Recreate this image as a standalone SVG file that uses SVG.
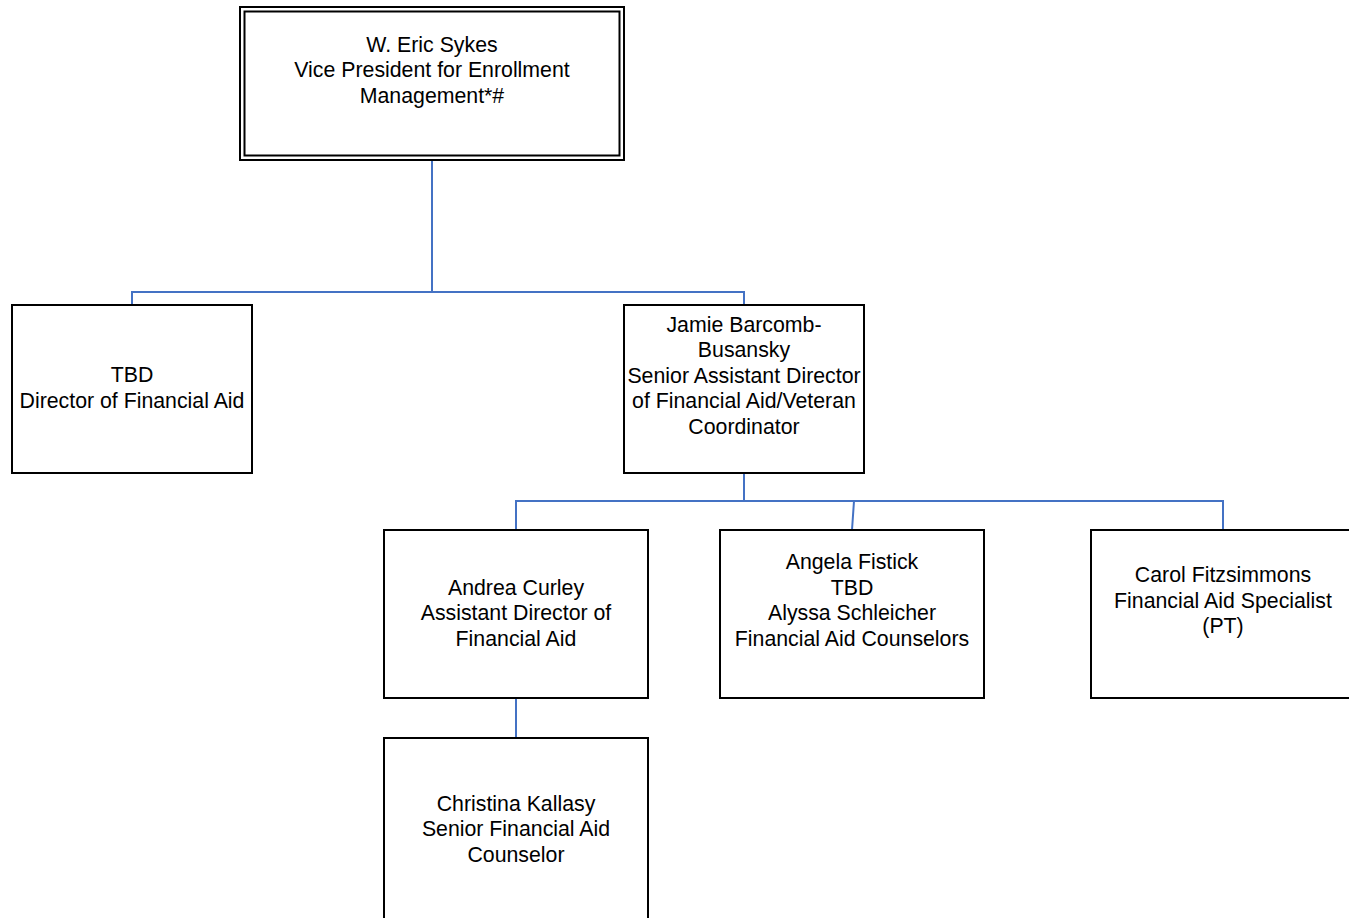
<svg xmlns="http://www.w3.org/2000/svg" width="1349" height="918" viewBox="0 0 1349 918">
<style>
.box{fill:#fff;stroke:#000;stroke-width:2}
.t{font-family:"Liberation Sans",Arial,sans-serif;font-size:21.3px;fill:#000;text-anchor:middle}
.c{fill:none;stroke:#4472C4;stroke-width:2}
</style>
<rect width="1349" height="918" fill="#fff"/>
<g id="connectors">
<path class="c" d="M432,160 V292 M132,305 V292 H744 V305"/>
<path class="c" d="M744,473 V501 M516,530 V501 H1223 V530 M854,501 L852,530"/>
<path class="c" d="M516,698 V738"/>
</g>
<g id="n-sykes">
<rect class="box" x="240" y="7" width="384" height="153"/>
<rect class="box" x="244.5" y="11.5" width="375" height="144"/>
<text class="t" x="432" y="52">W. Eric Sykes</text>
<text class="t" x="432" y="77">Vice President for Enrollment</text>
<text class="t" x="432" y="103">Management*#</text>
</g>
<g id="n-tbd-director">
<rect class="box" x="12" y="305" width="240" height="168"/>
<text class="t" x="132" y="382">TBD</text>
<text class="t" x="132" y="408">Director of Financial Aid</text>
</g>
<g id="n-barcomb">
<rect class="box" x="624" y="305" width="240" height="168"/>
<text class="t" x="744" y="332">Jamie Barcomb-</text>
<text class="t" x="744" y="357">Busansky</text>
<text class="t" x="744" y="383">Senior Assistant Director</text>
<text class="t" x="744" y="408">of Financial Aid/Veteran</text>
<text class="t" x="744" y="434">Coordinator</text>
</g>
<g id="n-curley">
<rect class="box" x="384" y="530" width="264" height="168"/>
<text class="t" x="516" y="595">Andrea Curley</text>
<text class="t" x="516" y="620">Assistant Director of</text>
<text class="t" x="516" y="646">Financial Aid</text>
</g>
<g id="n-counselors">
<rect class="box" x="720" y="530" width="264" height="168"/>
<text class="t" x="852" y="569">Angela Fistick</text>
<text class="t" x="852" y="595">TBD</text>
<text class="t" x="852" y="620">Alyssa Schleicher</text>
<text class="t" x="852" y="646">Financial Aid Counselors</text>
</g>
<g id="n-fitzsimmons">
<rect class="box" x="1091" y="530" width="264" height="168"/>
<text class="t" x="1223" y="582">Carol Fitzsimmons</text>
<text class="t" x="1223" y="608">Financial Aid Specialist</text>
<text class="t" x="1223" y="633">(PT)</text>
</g>
<g id="n-kallasy">
<rect class="box" x="384" y="738" width="264" height="190"/>
<text class="t" x="516" y="811">Christina Kallasy</text>
<text class="t" x="516" y="836">Senior Financial Aid</text>
<text class="t" x="516" y="862">Counselor</text>
</g>
</svg>
